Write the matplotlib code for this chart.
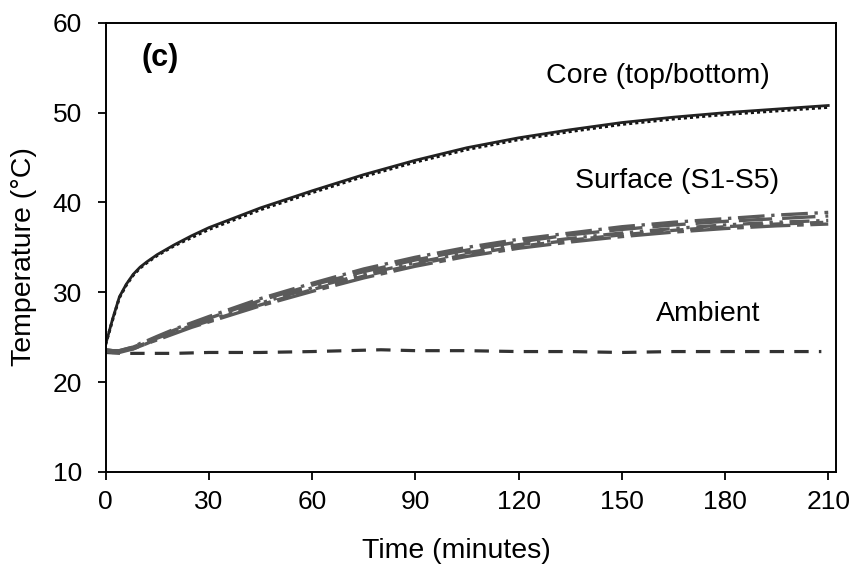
import matplotlib
matplotlib.use("Agg")
import matplotlib.pyplot as plt

plt.rcParams['font.family'] = ['Liberation Sans', 'DejaVu Sans']

# time in minutes
time = [0, 2, 4, 5, 6, 8, 10, 12, 15, 20, 25, 30, 45, 60, 75, 90, 105, 120, 135, 150, 165, 180, 195, 210]

core_top = [24.2, 27.0, 29.5, 30.2, 30.9, 32.0, 32.8, 33.4, 34.2, 35.3, 36.3, 37.2, 39.4, 41.3, 43.1, 44.7, 46.1, 47.2, 48.1, 48.9, 49.5, 50.0, 50.4, 50.8]
core_bottom = [24.2, 26.9, 29.4, 30.1, 30.8, 31.9, 32.7, 33.3, 34.1, 35.2, 36.1, 37.0, 39.2, 41.1, 42.9, 44.5, 45.9, 47.0, 47.9, 48.7, 49.3, 49.8, 50.2, 50.6]

# surface sensors S1-S5
s1 = [23.6, 23.5, 23.5, 23.6, 23.7, 23.9, 24.3, 24.6, 25.1, 25.9, 26.6, 27.3, 29.3, 31.0, 32.6, 33.9, 35.0, 35.9, 36.6, 37.3, 37.8, 38.2, 38.6, 38.9]
s2 = [23.6, 23.5, 23.5, 23.6, 23.7, 23.9, 24.2, 24.5, 25.0, 25.8, 26.5, 27.1, 29.1, 30.8, 32.3, 33.6, 34.7, 35.6, 36.4, 37.0, 37.5, 37.9, 38.2, 38.5]
s3 = [23.5, 23.4, 23.4, 23.5, 23.6, 23.8, 24.1, 24.4, 24.9, 25.6, 26.3, 26.9, 28.8, 30.5, 32.0, 33.3, 34.4, 35.3, 36.0, 36.6, 37.1, 37.5, 37.8, 38.0]
s4 = [23.5, 23.4, 23.4, 23.5, 23.6, 23.7, 24.0, 24.3, 24.8, 25.5, 26.2, 26.8, 28.6, 30.3, 31.8, 33.1, 34.2, 35.1, 35.8, 36.4, 36.9, 37.3, 37.6, 37.8]
s5 = [23.4, 23.3, 23.3, 23.4, 23.5, 23.7, 24.0, 24.3, 24.7, 25.4, 26.1, 26.7, 28.5, 30.1, 31.6, 32.9, 34.0, 34.9, 35.6, 36.2, 36.7, 37.1, 37.4, 37.6]

amb_time = [0, 5, 10, 20, 30, 45, 60, 70, 80, 90, 105, 120, 135, 150, 165, 180, 195, 208]
ambient = [23.3, 23.2, 23.2, 23.2, 23.3, 23.3, 23.4, 23.5, 23.6, 23.5, 23.5, 23.4, 23.4, 23.3, 23.4, 23.4, 23.4, 23.4]

fig = plt.figure(figsize=(8.59, 5.72), dpi=100)
ax = fig.add_axes([0.123, 0.175, 0.850, 0.785])

grey = '#5a5a5a'
ax.plot(amb_time, ambient, color='#333333', lw=2.3, ls=(0, (4.5, 3.2)))
surf_styles = [(0, (8, 2, 1, 2)), (0, (10, 3)), (0, (6, 2, 1, 2, 1, 2)), (0, (4, 2)), (0, (12, 2, 2, 2))]
for s, st in zip([s1, s2, s3, s4, s5], surf_styles):
    ax.plot(time, s, color=grey, lw=2.4, ls=st)
ax.plot(time, core_bottom, color='#111111', lw=2.2, ls=(0, (1, 1)))
ax.plot(time, core_top, color='#222222', lw=2.0)

ax.set_xlim(0, 212.2)
ax.set_ylim(10, 60)
ax.set_xticks([0, 30, 60, 90, 120, 150, 180, 210])
ax.set_yticks([10, 20, 30, 40, 50, 60])
ax.tick_params(direction='out', length=6, width=1.3, labelsize=19)
ax.tick_params(axis='x', pad=7)
ax.tick_params(axis='y', pad=11)
for sp in ax.spines.values():
    sp.set_linewidth(1.4)

ax.set_xlabel('Time (minutes)', fontsize=20.5)
ax.set_ylabel('Temperature (°C)', fontsize=20.5)
ax.xaxis.set_label_coords(0.4805, -0.148)
ax.yaxis.set_label_coords(-0.094, 0.479)

ax.text(15.8, 56.1, '(c)', fontsize=22, fontweight='bold', ha='center', va='center')
ax.text(160.4, 54.1, 'Core (top/bottom)', fontsize=20.5, ha='center', va='center')
ax.text(166.0, 42.4, 'Surface (S1-S5)', fontsize=20.5, ha='center', va='center')
ax.text(175.0, 27.6, 'Ambient', fontsize=20.5, ha='center', va='center')

fig.savefig('out.png', dpi=100)
